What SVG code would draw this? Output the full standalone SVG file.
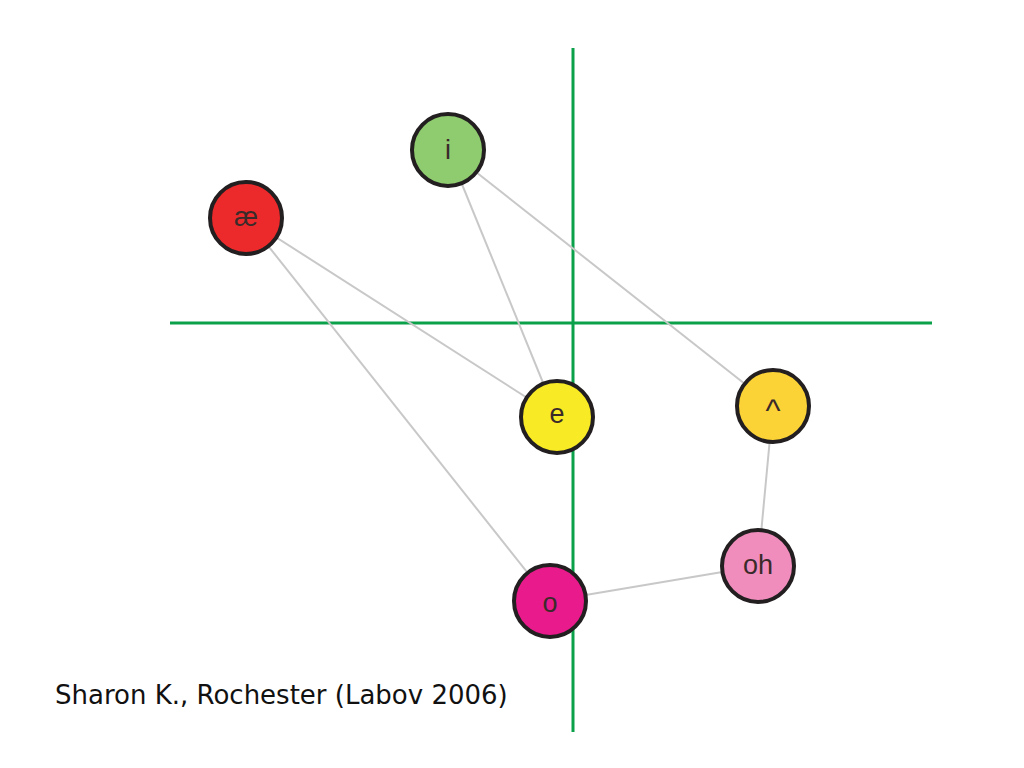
<svg xmlns="http://www.w3.org/2000/svg" width="1024" height="768" viewBox="0 0 1024 768">
<style>
.axis{stroke:#0aa14a;stroke-width:3;fill:none}
.edge{stroke:#c8c8c8;stroke-width:2;fill:none}
.node circle{stroke:#231f20;stroke-width:4}
.node text{font-family:"Liberation Sans",Arial,sans-serif;font-size:27px;fill:#3a2a2a;text-anchor:middle;dominant-baseline:central}
.caption{font-family:"DejaVu Sans",Verdana,sans-serif;font-size:26px;fill:#111}
</style>
<rect width="1024" height="768" fill="#fff"/>
<g id="axes">
<line class="axis" x1="573" y1="48" x2="573" y2="732"/>
<line class="axis" x1="170" y1="323" x2="932" y2="323"/>
</g>
<g id="connectors">
<line class="edge" x1="246" y1="218" x2="557" y2="417"/>
<line class="edge" x1="246" y1="218" x2="550" y2="601"/>
<line class="edge" x1="448" y1="150" x2="557" y2="417"/>
<line class="edge" x1="448" y1="150" x2="773" y2="406"/>
<line class="edge" x1="773" y1="406" x2="758" y2="566"/>
<line class="edge" x1="758" y1="566" x2="550" y2="601"/>
</g>
<g id="node-ae" class="node"><circle cx="246" cy="218" r="36" fill="#ec2a2b"/><text x="246" y="217">æ</text></g>
<g id="node-i" class="node"><circle cx="448" cy="150" r="36" fill="#8fcb6f"/><text x="448" y="150">i</text></g>
<g id="node-e" class="node"><circle cx="557" cy="417" r="36" fill="#f8ea24"/><text x="557" y="414">e</text></g>
<g id="node-caret" class="node"><circle cx="773" cy="406" r="36" fill="#fcd337"/><text x="773" y="410" style="font-size:32px">^</text></g>
<g id="node-oh" class="node"><circle cx="758" cy="566" r="36" fill="#f08dbd"/><text x="758" y="565">oh</text></g>
<g id="node-o" class="node"><circle cx="550" cy="601" r="36" fill="#e91a8c"/><text x="550" y="603">o</text></g>
<text class="caption" x="55" y="704">Sharon K., Rochester (Labov 2006)</text>
</svg>
